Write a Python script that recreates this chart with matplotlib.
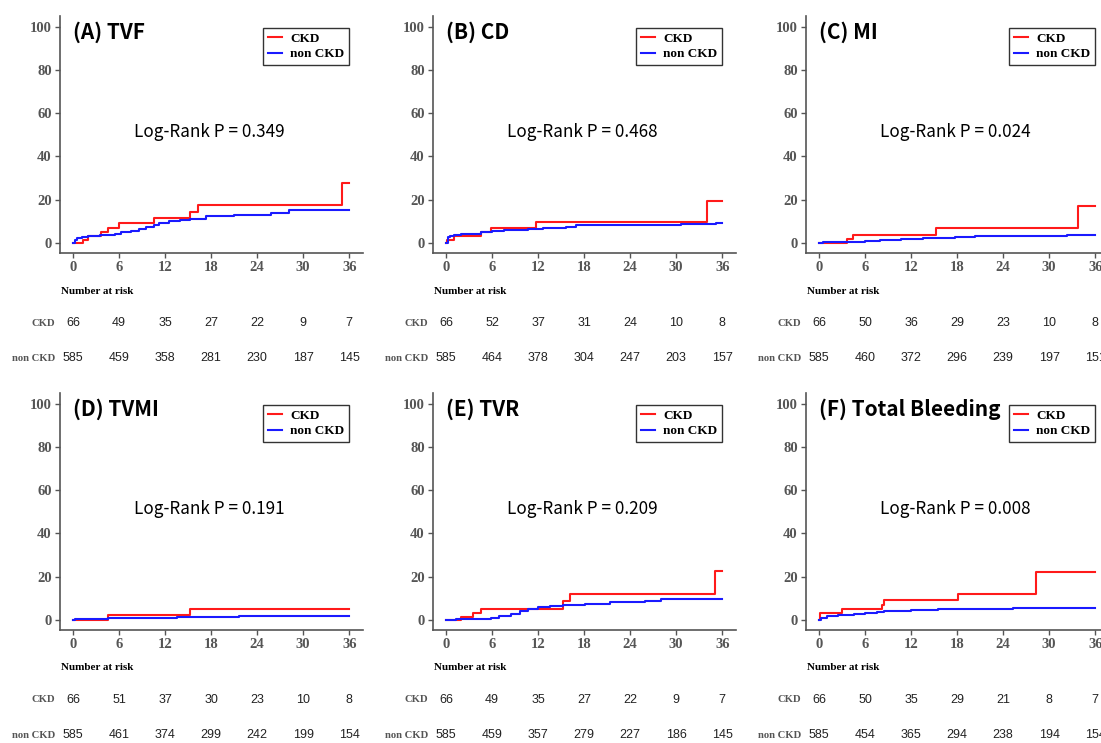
"""Cumulative incidence curves, CKD vs non CKD, six endpoints."""

import matplotlib.pyplot as plt
from matplotlib.transforms import blended_transform_factory

# Step curves: (month, cumulative incidence %)
tvf_ckd = [(0, 0), (1.3, 1.5), (2.0, 3.2), (3.7, 5.0), (4.5, 7.0), (6.0, 9.2), (10.5, 11.3),
           (15.3, 14.3), (16.3, 17.5), (35.1, 27.5), (36, 27.5)]
tvf_non = [(0, 0), (0.2, 1.5), (0.5, 2.1), (1.2, 2.7), (2.0, 3.2), (3.5, 3.6), (5.5, 4.3),
           (6.3, 5.1), (7.5, 5.6), (8.6, 6.2), (9.5, 7.3), (10.5, 8.3), (11.2, 9.3), (12.5, 10.0),
           (14.0, 10.6), (15.3, 11.2), (17.3, 12.4), (21.0, 12.9), (25.8, 13.8), (28.2, 15.3),
           (36, 15.3)]
cd_ckd = [(0, 0), (0.1, 1.5), (1.05, 3.2), (4.5, 5.0), (5.9, 6.8), (11.7, 9.6), (34.0, 19.4),
          (36, 19.4)]
cd_non = [(0, 0), (0.2, 2.8), (0.5, 3.3), (1.0, 3.7), (2.0, 4.2), (4.6, 4.8), (6.0, 5.3),
          (7.5, 5.9), (10.7, 6.5), (12.6, 7.0), (15.7, 7.4), (16.9, 8.3), (30.6, 8.8),
          (35.2, 9.3), (36, 9.3)]
mi_ckd = [(0, 0), (3.6, 2.0), (4.4, 3.8), (15.2, 7.1), (33.7, 17.2), (36, 17.2)]
mi_non = [(0, 0), (0.5, 0.5), (6.0, 0.9), (8.0, 1.2), (10.7, 1.6), (13.5, 2.1), (17.7, 2.6),
          (20.3, 3.0), (32.3, 3.6), (36, 3.6)]
tvmi_ckd = [(0, 0), (4.5, 2.3), (15.3, 5.0), (36, 5.0)]
tvmi_non = [(0, 0), (0.3, 0.5), (4.6, 0.8), (13.6, 1.1), (20.3, 1.5), (21.6, 1.9), (36, 1.9)]
tvr_ckd = [(0, 0), (1.9, 1.5), (3.5, 3.3), (4.5, 5.2), (15.3, 8.6), (16.1, 11.9), (35.0, 22.8),
           (36, 22.8)]
tvr_non = [(0, 0), (1.3, 0.5), (5.9, 1.0), (6.9, 1.6), (8.5, 2.8), (9.6, 3.9), (10.7, 5.0),
           (12.0, 5.8), (13.5, 6.4), (15.3, 7.0), (18.1, 7.5), (21.4, 8.2), (26.0, 8.6),
           (28.0, 9.8), (36, 9.8)]
bleed_ckd = [(0, 0), (0.1, 3.3), (3.0, 4.8), (8.2, 7.0), (8.5, 9.2), (18.1, 12.1), (28.3, 22.0),
             (36, 22.0)]
bleed_non = [(0, 0), (0.2, 0.8), (1.0, 1.6), (2.5, 2.1), (4.5, 2.6), (6.0, 3.1), (7.5, 3.6),
             (8.5, 4.0), (12.0, 4.4), (15.5, 4.8), (25.3, 5.5), (36, 5.5)]

# Number at risk
risk_months = [0, 6, 12, 18, 24, 30, 36]
tvf_risk = ([66, 49, 35, 27, 22, 9, 7], [585, 459, 358, 281, 230, 187, 145])
cd_risk = ([66, 52, 37, 31, 24, 10, 8], [585, 464, 378, 304, 247, 203, 157])
mi_risk = ([66, 50, 36, 29, 23, 10, 8], [585, 460, 372, 296, 239, 197, 151])
tvmi_risk = ([66, 51, 37, 30, 23, 10, 8], [585, 461, 374, 299, 242, 199, 154])
tvr_risk = ([66, 49, 35, 27, 22, 9, 7], [585, 459, 357, 279, 227, 186, 145])
bleed_risk = ([66, 50, 35, 29, 21, 8, 7], [585, 454, 365, 294, 238, 194, 154])

titles = ["(A) TVF", "(B) CD", "(C) MI", "(D) TVMI", "(E) TVR", "(F) Total Bleeding"]
p_values = ["0.349", "0.468", "0.024", "0.191", "0.209", "0.008"]
groups = ["CKD", "non CKD"]
yticks = [0, 20, 40, 60, 80, 100]

W, H = 1101, 743
GREY = "#555555"
SERIF = "Liberation Serif"
KR = ["Noto Sans CJK KR", "DejaVu Sans"]


def add_panel(fig, box, title, p, ckd, non, risk):
    left, top, right, bottom = box
    ax = fig.add_axes([left / W, 1 - bottom / H, (right - left) / W, (bottom - top) / H])
    height = bottom - top

    ax.step([t for t, _ in ckd], [v for _, v in ckd], where="post", color="#ff1a1a", lw=1.5,
            label=groups[0])
    ax.step([t for t, _ in non], [v for _, v in non], where="post", color="#1a1aff", lw=1.5,
            label=groups[1])

    ax.set_xlim(-1.7, 37.8)
    ax.set_ylim(-4.7, 105)
    ax.set_xticks(risk_months)
    ax.set_yticks(yticks)
    for side in ["top", "right"]:
        ax.spines[side].set_visible(False)
    for side in ["left", "bottom"]:
        ax.spines[side].set_color(GREY)
        ax.spines[side].set_linewidth(1.2)
    ax.tick_params(colors=GREY, length=3.5, width=1, pad=2.5)
    for lab in ax.get_xticklabels() + ax.get_yticklabels():
        lab.set_fontfamily(SERIF)
        lab.set_fontweight("bold")
        lab.set_fontsize(10.5)
        lab.set_color(GREY)

    ax.text(0, 0.93, title, transform=blended_transform_factory(ax.transData, ax.transAxes),
            ha="left", va="center", fontsize=15, fontweight="bold", family=KR)
    ax.text(17.7, 51.5, f"Log-Rank P = {p}", ha="center", va="center", fontsize=12.3,
            family=KR)

    leg = ax.legend(loc="upper right", bbox_to_anchor=(0.954, 0.95), borderaxespad=0,
                    fancybox=False, framealpha=1, edgecolor="#333333", handlelength=1.1,
                    handletextpad=0.6, labelspacing=0.25, borderpad=0.35,
                    prop={"family": SERIF, "weight": "bold", "size": 9.5})
    leg.get_frame().set_linewidth(1.0)

    # Number at risk table below the axis
    trans = blended_transform_factory(ax.transData, ax.transAxes)
    ax.text(-1.6, -38 / height, "Number at risk", transform=trans,
            ha="left", va="center", family=SERIF, fontweight="bold", fontsize=8)
    for row, (name, counts) in enumerate(zip(groups, risk)):
        y = -(70 + 35 * row) / height
        ax.text(-5 / (right - left), y, name, transform=ax.transAxes, ha="right", va="center",
                family=SERIF, fontweight="bold", fontsize=7.7, color=GREY)
        for m, n in zip(risk_months, counts):
            ax.text(m, y, str(n), transform=trans, ha="center", va="center",
                    family="Liberation Sans", fontsize=9, color="#222222")
    return ax


def create_plot() -> None:
    fig = plt.figure(figsize=(W / 100, H / 100), dpi=100)
    boxes = [(60, 16, 363, 253), (433, 16, 736, 253), (806, 16, 1109, 253),
             (60, 393, 363, 630), (433, 393, 736, 630), (806, 393, 1109, 630)]
    curves = [(tvf_ckd, tvf_non), (cd_ckd, cd_non), (mi_ckd, mi_non),
              (tvmi_ckd, tvmi_non), (tvr_ckd, tvr_non), (bleed_ckd, bleed_non)]
    risks = [tvf_risk, cd_risk, mi_risk, tvmi_risk, tvr_risk, bleed_risk]
    for box, title, p, (ckd, non), risk in zip(boxes, titles, p_values, curves, risks):
        add_panel(fig, box, title, p, ckd, non, risk)
    fig.savefig("out.png", dpi=100)


if __name__ == "__main__":
    create_plot()
